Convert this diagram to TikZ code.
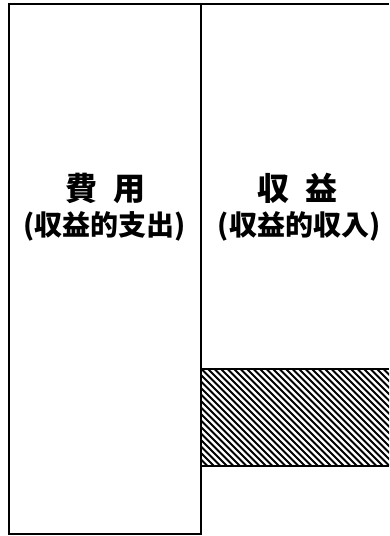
\documentclass[tikz,border=0pt]{standalone}
\usepackage{fontspec}
\newfontfamily\jpfont{Noto Sans CJK JP}
\usetikzlibrary{positioning,calc}

\begin{document}
\begin{tikzpicture}[
    x=1pt, y=1pt,
    boxline/.style={draw=black, line width=2pt},
    hatchline/.style={draw=black, line width=1.8pt},
    titlelabel/.style={font=\jpfont\bfseries\fontsize{32}{36}\selectfont, inner sep=0pt},
    sublabel/.style={font=\jpfont\bfseries\fontsize{28}{32}\selectfont, inner sep=0pt}
]
\useasboundingbox (0,0) rectangle (389,536);

% --- COORDINATES ---
\coordinate (cost_sw) at (9, 2);
\coordinate (cost_ne) at (201, 532);
\coordinate (rev_ne) at (389, 532);
\coordinate (band_sw) at (201, 70);
\coordinate (band_ne) at (389, 167);

% --- HATCHED BAND ---
\begin{scope}
    \clip (band_sw) rectangle (band_ne);
    \foreach \x in {104,110.5,...,395} {
        \draw[hatchline] (\x, 167) -- ++(97, -97);
    }
\end{scope}
\draw[boxline] (band_sw) -- (band_sw -| band_ne);
\draw[boxline] (band_sw |- band_ne) -- (band_ne);

% --- BOXES ---
\draw[boxline] (cost_sw) rectangle (cost_ne);
\draw[boxline] (cost_ne) -- (rev_ne);

% --- LABELS ---
\node[titlelabel] (cost_title) at (105, 348) {費\hspace{0.5em}用};
\node[sublabel] (cost_sub) at (105, 310) {(収益的支出)};

\node[titlelabel] (rev_title) at (297, 348) {収\hspace{0.5em}益};
\node[sublabel] (rev_sub) at (299, 310) {(収益的収入)};

\end{tikzpicture}
\end{document}
